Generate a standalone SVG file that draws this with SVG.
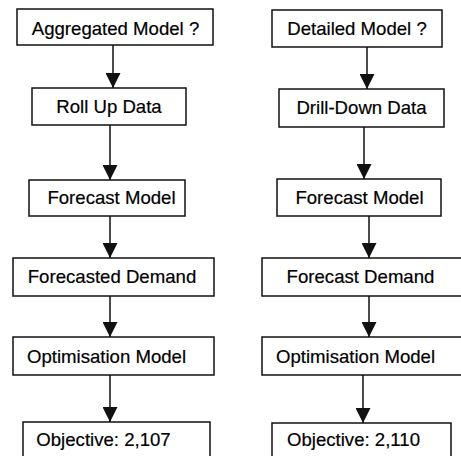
<svg xmlns="http://www.w3.org/2000/svg" width="461" height="456" viewBox="0 0 461 456">
  <style>
    .box rect { fill: #ffffff; stroke: #111111; stroke-width: 1.5; }
    .box text { font-family: "Liberation Sans", Arial, sans-serif; font-size: 18.6px; fill: #000000; stroke: #000000; stroke-width: 0.2; text-anchor: middle; }
    .link { stroke: #111111; stroke-width: 1.5; fill: none; marker-end: url(#head); }
  </style>
  <defs>
    <marker id="head" viewBox="0 0 15 15" refX="15" refY="7.5" markerWidth="15" markerHeight="15" markerUnits="userSpaceOnUse" orient="auto">
      <path d="M0,0 L15,7.5 L0,15 Z" fill="#111111"/>
    </marker>
  </defs>
  <rect width="461" height="456" fill="#ffffff"/>

  <!-- connectors -->
  <g id="connectors">
    <line class="link" x1="113" y1="45" x2="113" y2="88"/>
    <line class="link" x1="110" y1="125" x2="110" y2="180"/>
    <line class="link" x1="110" y1="216" x2="110" y2="258"/>
    <line class="link" x1="110" y1="296" x2="110" y2="337"/>
    <line class="link" x1="110" y1="375" x2="110" y2="422"/>

    <line class="link" x1="367" y1="47" x2="367" y2="89"/>
    <line class="link" x1="364" y1="127" x2="364" y2="179"/>
    <line class="link" x1="369" y1="216" x2="369" y2="258"/>
    <line class="link" x1="369" y1="296" x2="369" y2="337"/>
    <line class="link" x1="363" y1="375" x2="363" y2="423"/>
  </g>

  <!-- aggregated path -->
  <g id="agg-model" class="box">
    <rect x="17" y="9" width="196" height="36"/>
    <text x="115.5" y="35">Aggregated Model ?</text>
  </g>
  <g id="agg-rollup" class="box">
    <rect x="32" y="88" width="154" height="37"/>
    <text x="109" y="113">Roll Up Data</text>
  </g>
  <g id="agg-forecast" class="box">
    <rect x="29" y="180" width="156" height="36"/>
    <text x="111.5" y="204">Forecast Model</text>
  </g>
  <g id="agg-demand" class="box">
    <rect x="13" y="258" width="201" height="38"/>
    <text x="112" y="283">Forecasted Demand</text>
  </g>
  <g id="agg-optim" class="box">
    <rect x="13" y="337" width="201" height="38"/>
    <text x="106.5" y="363">Optimisation Model</text>
  </g>
  <g id="agg-objective" class="box">
    <rect x="23" y="422" width="187" height="40"/>
    <text x="103.5" y="446">Objective: 2,107</text>
  </g>

  <!-- detailed path -->
  <g id="det-model" class="box">
    <rect x="272" y="10" width="170" height="37"/>
    <text x="357" y="35">Detailed Model ?</text>
  </g>
  <g id="det-drill" class="box">
    <rect x="279" y="89" width="165" height="38"/>
    <text x="361.5" y="114">Drill-Down Data</text>
  </g>
  <g id="det-forecast" class="box">
    <rect x="277" y="179" width="164" height="37"/>
    <text x="359.5" y="204">Forecast Model</text>
  </g>
  <g id="det-demand" class="box">
    <rect x="262" y="258" width="210" height="38"/>
    <text x="360.5" y="283">Forecast Demand</text>
  </g>
  <g id="det-optim" class="box">
    <rect x="262" y="337" width="210" height="38"/>
    <text x="355.5" y="363">Optimisation Model</text>
  </g>
  <g id="det-objective" class="box">
    <rect x="272" y="423" width="179" height="40"/>
    <text x="353.5" y="446">Objective: 2,110</text>
  </g>
</svg>
